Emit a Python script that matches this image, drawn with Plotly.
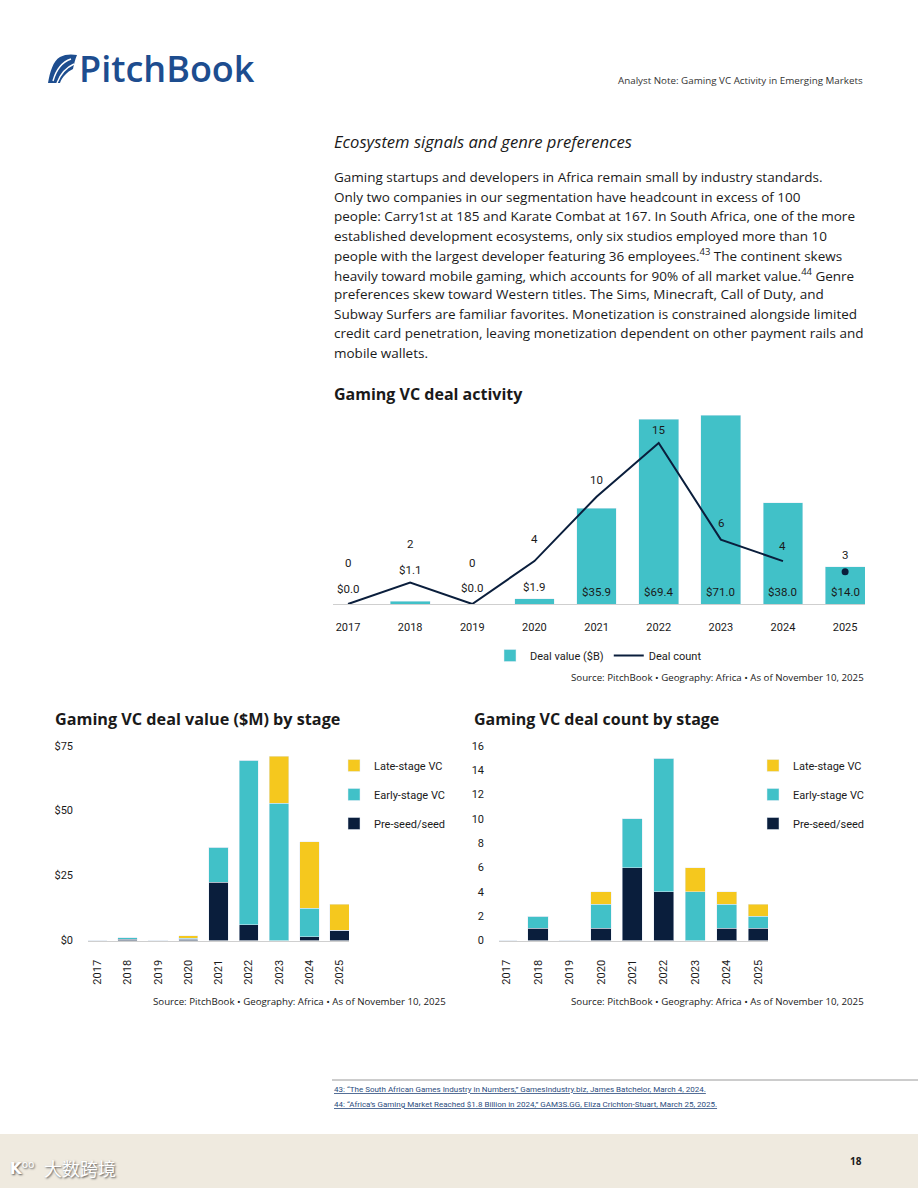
import plotly.graph_objects as go

W, H = 918, 1188
def px(x): return x / W
def py(y): return 1 - y / H

# ---------------- data ----------------
years = ["2017", "2018", "2019", "2020", "2021", "2022", "2023", "2024", "2025"]
deal_value = [0.0, 1.1, 0.0, 1.9, 35.9, 69.4, 71.0, 38.0, 14.0]
deal_count = [0, 2, 0, 4, 10, 15, 6, 4, 3]

value_preseed = [0.0, 0.5, 0.0, 0.5, 22.4, 6.1, 0.0, 1.5, 3.9]
value_early = [0.0, 0.6, 0.0, 0.4, 13.5, 63.3, 52.8, 10.9, 0.0]
value_late = [0.0, 0.0, 0.0, 1.0, 0.0, 0.0, 18.2, 25.6, 10.1]

count_preseed = [0, 1, 0, 1, 6, 4, 0, 1, 1]
count_early = [0, 1, 0, 2, 4, 11, 4, 2, 1]
count_late = [0, 0, 0, 1, 0, 0, 2, 1, 1]

value_ticks = [0, 25, 50, 75]
value_ticktext = ["$0", "$25", "$50", "$75"]
count_ticks = [0, 2, 4, 6, 8, 10, 12, 14, 16]

paragraph = [
    "Gaming startups and developers in Africa remain small by industry standards.",
    "Only two companies in our segmentation have headcount in excess of 100",
    "people: Carry1st at 185 and Karate Combat at 167. In South Africa, one of the more",
    "established development ecosystems, only six studios employed more than 10",
    "people with the largest developer featuring 36 employees.<sup>43</sup> The continent skews",
    "heavily toward mobile gaming, which accounts for 90% of all market value.<sup>44</sup> Genre",
    "preferences skew toward Western titles. The Sims, Minecraft, Call of Duty, and",
    "Subway Surfers are familiar favorites. Monetization is constrained alongside limited",
    "credit card penetration, leaving monetization dependent on other payment rails and",
    "mobile wallets.",
]
footnotes = [
    "43: “The South African Games Industry in Numbers,” GamesIndustry.biz, James Batchelor, March 4, 2024.",
    "44: “Africa’s Gaming Market Reached $1.8 Billion in 2024,” GAM3S.GG, Eliza Crichton-Stuart, March 25, 2025.",
]
source_text = "Source: PitchBook • Geography: Africa • As of November 10, 2025"

# ---------------- style ----------------
TEAL = "#41C1C8"
NAVY = "#0A1E3C"
YELLOW = "#F5C81E"
LOGO = "#1D4D8F"
NARROW = "Roboto, Liberation Sans, sans-serif"
SANS = "Open Sans, Noto Sans, sans-serif"
AXIS_LINE = "#cfcfcf"
TXT = "#1a1a1a"

fig = go.Figure()

# ---- chart 1: deal activity ----
fig.add_trace(go.Bar(x=years, y=deal_value, name="Deal value ($B)", marker_color=TEAL,
                     width=0.64, xaxis="x", yaxis="y", legend="legend", legendrank=1,
                     hoverinfo="skip"))
fig.add_trace(go.Scatter(x=years[:-1], y=deal_count[:-1], name="Deal count", mode="lines",
                         line=dict(color=NAVY, width=2), xaxis="x", yaxis="y2",
                         legend="legend", legendrank=2))
fig.add_trace(go.Scatter(x=years[-1:], y=deal_count[-1:], mode="markers", showlegend=False,
                         marker=dict(color=NAVY, size=7), xaxis="x", yaxis="y2"))

# ---- chart 2: value by stage ----
stages = [("Pre-seed/seed", NAVY, 3), ("Early-stage VC", TEAL, 2), ("Late-stage VC", YELLOW, 1)]
for (name, col, rank), vals in zip(stages, [value_preseed, value_early, value_late]):
    fig.add_trace(go.Bar(x=years, y=vals, name=name, marker_color=col, width=0.64,
                         xaxis="x2", yaxis="y3", legend="legend2", legendgroup=name,
                         legendrank=rank))

# ---- chart 3: count by stage ----
for (name, col, rank), vals in zip(stages, [count_preseed, count_early, count_late]):
    fig.add_trace(go.Bar(x=years, y=vals, name=name, marker_color=col, width=0.64,
                         xaxis="x3", yaxis="y4", legend="legend3", legendgroup=name,
                         legendrank=rank))

annotations = []

# value / count labels on chart 1 (x given as category index)
value_label_shift = [15, 34, 16, 17, 12, 12, 12, 12, 12]
count_label_shift = [41, 39, 41, 22, 17, 13, 17, 15, 17]
lblfont = dict(family=NARROW, size=11.5, color=TXT)
for i, yr in enumerate(years):
    annotations.append(dict(x=i, y=0, xref="x", yref="y", text=f"${deal_value[i]:.1f}",
                            showarrow=False, yanchor="middle", yshift=value_label_shift[i],
                            font=lblfont))
    annotations.append(dict(x=i, y=deal_count[i], xref="x", yref="y2", text=str(deal_count[i]),
                            showarrow=False, yanchor="middle", yshift=count_label_shift[i],
                            font=lblfont))

def txt(x, y, text, size, color=TXT, family=SANS, xanchor="left", **kw):
    annotations.append(dict(x=px(x), y=py(y), xref="paper", yref="paper", text=text,
                            showarrow=False, xanchor=xanchor, yanchor="middle",
                            font=dict(family=family, size=size, color=color, **kw)))

# header
txt(77, 69, "PitchBook", 36, color=LOGO, family="Open Sans, sans-serif", weight=600)
txt(865, 80, "Analyst Note: Gaming VC Activity in Emerging Markets", 9.8, color="#333333", xanchor="right")

# heading + paragraph
txt(332, 142, "<i>Ecosystem signals and genre preferences</i>", 16.6)
for k, line in enumerate(paragraph):
    txt(332, 177 + 19.55 * k, line, 13.5)

# chart titles
txt(332, 394, "<b>Gaming VC deal activity</b>", 16)
txt(53, 719, "<b>Gaming VC deal value ($M) by stage</b>", 16.2)
txt(472, 719, "<b>Gaming VC deal count by stage</b>", 16)

# sources
txt(866, 677, source_text, 9.7, xanchor="right")
txt(448, 1001, source_text, 9.7, xanchor="right")
txt(866, 1001, source_text, 9.7, xanchor="right")

# footnotes
for k, fn in enumerate(footnotes):
    txt(332, 1089 + 15 * k, f"<u>{fn}</u>", 8, color="#2B4C7E",
        family="Liberation Sans Narrow, Roboto, sans-serif")

# footer
txt(864, 1161, "<b>18</b>", 10, xanchor="right")
annotations.append(dict(x=px(42), y=py(1168), xref="paper", yref="paper", text="大数跨境",
                        showarrow=False, xanchor="left", yanchor="middle",
                        font=dict(family="Noto Sans CJK SC", size=18, color="#ffffff",
                                  shadow="1px 1px 2px #555555")))
annotations.append(dict(x=px(8), y=py(1168), xref="paper", yref="paper", text="<b>K</b><sup>oo</sup>",
                        showarrow=False, xanchor="left", yanchor="middle",
                        font=dict(family="DejaVu Sans", size=15, color="#ffffff",
                                  shadow="1px 1px 2px #555555")))

def P(a, b):
    return f"{px(a):.5f},{py(b):.5f}"

logo_path = ("M " + P(48, 83) + " C " + P(50, 72) + " " + P(53, 61) + " " + P(60, 57)
             + " C " + P(65, 54) + " " + P(72, 54) + " " + P(77, 55)
             + " C " + P(75, 60) + " " + P(74, 64) + " " + P(73, 69)
             + " C " + P(67, 72) + " " + P(62, 77) + " " + P(60, 83) + " Z")
cut1 = ("M " + P(53, 81) + " C " + P(56, 70) + " " + P(62, 62) + " " + P(71, 59))
cut2 = ("M " + P(57, 83) + " C " + P(60, 75) + " " + P(65, 68) + " " + P(74, 64))

shapes = [
    dict(type="rect", xref="paper", yref="paper", x0=0, x1=1, y0=0, y1=py(1134),
         fillcolor="#EFEADF", line_width=0, layer="below"),
    dict(type="line", xref="paper", yref="paper", x0=px(332), x1=1, y0=py(1080), y1=py(1080),
         line=dict(color="#9a9a9a", width=1)),
    dict(type="path", xref="paper", yref="paper", path=logo_path, fillcolor=LOGO, line_width=0),
    dict(type="path", xref="paper", yref="paper", path=cut1, line=dict(color="white", width=1.4)),
    dict(type="path", xref="paper", yref="paper", path=cut2, line=dict(color="white", width=1.4)),
]

tickfont = dict(family=NARROW, size=11, color=TXT)
legfont = dict(family=NARROW, size=11, color=TXT)

fig.update_layout(
    width=W, height=H, autosize=False,
    margin=dict(l=0, r=0, t=0, b=0, pad=0, autoexpand=False),
    paper_bgcolor="white", plot_bgcolor="rgba(0,0,0,0)",
    barmode="stack",
    font=dict(family=SANS, color=TXT),
    xaxis=dict(type="category", domain=[px(333), px(865)], anchor="y", range=[-0.2415, 8.32],
               showline=True, linecolor=AXIS_LINE, linewidth=1, ticks="", showgrid=False,
               ticklabelstandoff=13, tickfont=tickfont, automargin=False),
    yaxis=dict(domain=[py(604), py(410)], range=[0, 72.88], visible=False, anchor="x",
               automargin=False),
    yaxis2=dict(overlaying="y", range=[0, 18.08], visible=False, anchor="x", automargin=False),
    xaxis2=dict(type="category", domain=[px(88), px(349)], anchor="y3", range=[-0.31, 8.31],
                showline=True, linecolor=AXIS_LINE, linewidth=1, ticks="", showgrid=False,
                tickangle=-90, ticklabelstandoff=14, tickfont=tickfont, automargin=False),
    yaxis3=dict(domain=[py(940.5), py(745.7)], anchor="x2", range=[0, 75], tickvals=value_ticks,
                ticktext=value_ticktext, showgrid=False, zeroline=False, showline=False,
                ticks="", ticklabelstandoff=14, tickfont=tickfont, automargin=False),
    xaxis3=dict(type="category", domain=[px(499), px(768)], anchor="y4", range=[-0.24, 8.31],
                showline=True, linecolor=AXIS_LINE, linewidth=1, ticks="", showgrid=False,
                tickangle=-90, ticklabelstandoff=14, tickfont=tickfont, automargin=False),
    yaxis4=dict(domain=[py(940.5), py(746)], anchor="x3", range=[0, 16], tickvals=count_ticks,
                showgrid=False, zeroline=False, showline=False, ticks="",
                ticklabelstandoff=14, tickfont=tickfont, automargin=False),
    legend=dict(orientation="h", x=px(490), y=py(641), xanchor="left", yanchor="top",
                bgcolor="rgba(0,0,0,0)", font=legfont, traceorder="normal"),
    legend2=dict(x=px(334), y=py(751), xanchor="left", yanchor="top", traceorder="grouped",
                 tracegroupgap=10, bgcolor="rgba(0,0,0,0)", font=legfont),
    legend3=dict(x=px(753), y=py(751), xanchor="left", yanchor="top", traceorder="grouped",
                 tracegroupgap=10, bgcolor="rgba(0,0,0,0)", font=legfont),
    annotations=annotations,
    shapes=shapes,
    showlegend=True,
)

fig.write_html("out.html", config={"displayModeBar": False},
               post_script="document.body.style.margin='0';document.body.style.overflow='hidden';")
